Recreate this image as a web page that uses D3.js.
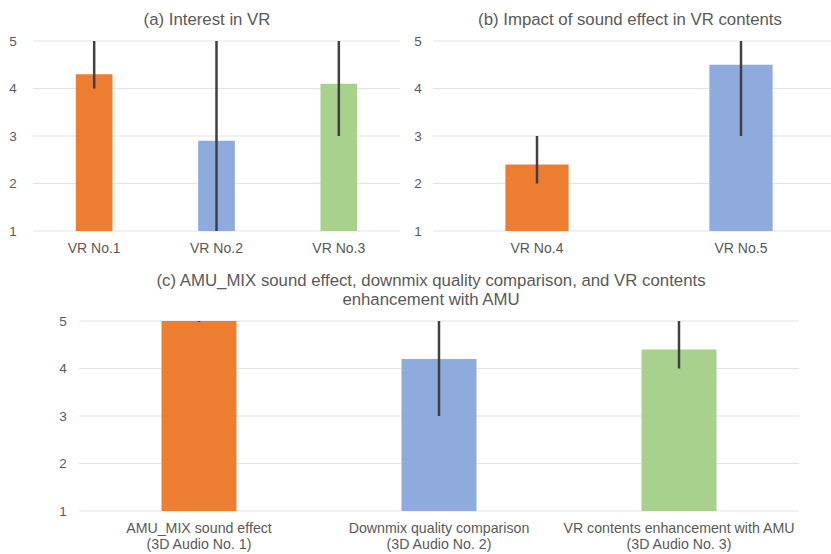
<!DOCTYPE html>
<html><head><meta charset="utf-8">
<script src="https://cdn.jsdelivr.net/npm/d3@7"></script>
<style>
html,body{margin:0;padding:0;background:#fff;}
svg text{font-family:"Liberation Sans",Arial,sans-serif;fill:#595959;}
</style></head>
<body><svg id="c" width="831" height="554"></svg>
<script>
// ---- data ----
const catsA = ["VR No.1","VR No.2","VR No.3"];
const valsA = [4.3, 2.9, 4.1];
const errLoA = [4, 1, 3];
const errHiA = [5, 5, 5];

const catsB = ["VR No.4","VR No.5"];
const valsB = [2.4, 4.5];
const errLoB = [2, 3];
const errHiB = [3, 5];

const catsC = [["AMU_MIX sound effect","(3D Audio No. 1)"],
               ["Downmix quality comparison","(3D Audio No. 2)"],
               ["VR contents enhancement with AMU","(3D Audio No. 3)"]];
const valsC = [5.0, 4.2, 4.4];
const errLoC = [5, 3, 4];
const errHiC = [5, 5, 5];

const colorsA = ["#ED7D31","#8FAADC","#A9D18E"];
const colorsB = ["#ED7D31","#8FAADC"];
const colorsC = ["#ED7D31","#8FAADC","#A9D18E"];
const yTicks = [1,2,3,4,5];

const titleA = "(a) Interest in VR";
const titleB = "(b) Impact of sound effect in VR contents";
const titleC = ["(c) AMU_MIX sound effect, downmix quality comparison, and VR contents","enhancement with AMU"];

const svg = d3.select("#c");

function panel(cfg){
  const g = svg.append("g");
  const n = cfg.cats.length;
  const x = d3.scaleBand().domain(d3.range(n)).range(cfg.xr)
      .paddingInner(cfg.pad).paddingOuter(cfg.pad/2);
  const y = d3.scaleLinear().domain([1,5]).range(cfg.yr);
  // gridlines
  g.selectAll("line.grid").data(yTicks).enter().append("line")
    .attr("x1", cfg.gx[0]).attr("x2", cfg.gx[1])
    .attr("y1", d=>y(d)).attr("y2", d=>y(d))
    .attr("stroke","#e3e3e3").attr("stroke-width",1);
  // y tick labels
  g.selectAll("text.yt").data(yTicks).enter().append("text")
    .attr("x", cfg.ytx).attr("y", d=>y(d)).attr("dy","0.35em")
    .attr("text-anchor","middle").style("font-size","13.5px")
    .text(d=>d);
  // bars
  g.selectAll("rect").data(cfg.vals).enter().append("rect")
    .attr("x",(d,i)=>x(i)).attr("width",x.bandwidth())
    .attr("y",d=>y(d)).attr("height",d=>y(1)-y(d))
    .attr("fill",(d,i)=>cfg.colors[i]);
  // error bars
  g.selectAll("line.err").data(cfg.vals).enter().append("line")
    .attr("x1",(d,i)=>x(i)+x.bandwidth()/2).attr("x2",(d,i)=>x(i)+x.bandwidth()/2)
    .attr("y1",(d,i)=>y(cfg.lo[i])+ (cfg.lo[i]===cfg.hi[i]?1:0)).attr("y2",(d,i)=>y(cfg.hi[i]))
    .attr("stroke","#404040").attr("stroke-width",2.5);
  // x labels
  cfg.cats.forEach((c,i)=>{
    const lines = Array.isArray(c)?c:[c];
    const t = g.append("text").attr("text-anchor","middle").style("font-size",cfg.xfs)
      .attr("x", x(i)+x.bandwidth()/2);
    lines.forEach((l,j)=>{
      t.append("tspan").attr("x", x(i)+x.bandwidth()/2)
       .attr("y", cfg.xly + j*16).text(l);
    });
  });
  // title
  const tl = Array.isArray(cfg.title)?cfg.title:[cfg.title];
  tl.forEach((l,j)=>{
    g.append("text").attr("x",cfg.tx).attr("y",cfg.ty + j*19)
     .attr("text-anchor","middle").style("font-size","16.8px").text(l);
  });
}

panel({cats:catsA, vals:valsA, lo:errLoA, hi:errHiA, colors:colorsA,
  xr:[33,400], pad:0.70, yr:[231,41], gx:[33,400], ytx:13, xly:253, xfs:"14px",
  title:titleA, tx:207, ty:25});
panel({cats:catsB, vals:valsB, lo:errLoB, hi:errHiB, colors:colorsB,
  xr:[435,843], pad:0.69, yr:[231,41], gx:[433,831], ytx:418, xly:253, xfs:"14px",
  title:titleB, tx:630, ty:25});
panel({cats:catsC, vals:valsC, lo:errLoC, hi:errHiC, colors:colorsC,
  xr:[79,799], pad:0.6875, yr:[511,321], gx:[79,799], ytx:63, xly:533, xfs:"14.2px",
  title:titleC, tx:431, ty:286});
</script></body></html>
